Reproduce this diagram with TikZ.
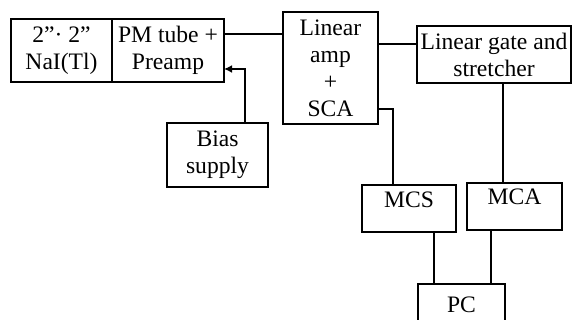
\documentclass[tikz,border=0pt]{standalone}
\usepackage{fontspec}
\setmainfont{Liberation Serif}
\usetikzlibrary{arrows.meta,positioning}

\begin{document}
\begin{tikzpicture}[x=0.5pt,y=-0.5pt,
box/.style={draw,line width=0.8pt,outer sep=0pt,align=center,inner sep=1pt,
font=\fontsize{11.8}{13.5}\selectfont},
toptext/.style={draw,line width=0.8pt,outer sep=0pt,inner sep=0pt,
text height=11pt,text depth=12.5pt,font=\fontsize{11.8}{13.5}\selectfont},
wire/.style={line width=0.8pt},
arr/.style={-{Latex[length=4pt,width=4pt]},line width=0.8pt}
]
\useasboundingbox (0,0) rectangle (572,320);
\clip (0,0) rectangle (572,320);
\node[box,minimum width=50.5pt,minimum height=31.5pt] (nai) at (61.5,50.5) {2”· 2”\\NaI(Tl)};
\node[box,minimum width=56pt,minimum height=31.5pt,right=0pt of nai] (pm) {PM tube +\\Preamp};
\node[box,minimum width=50.5pt,minimum height=32pt] (bias) at (217.5,155) {Bias\\supply};
\node[box,minimum width=47.5pt,minimum height=56pt] (amp) at (330.5,68) {Linear\\amp\\+\\SCA};
\node[box,minimum width=77pt,minimum height=28.5pt] (gate) at (494,54.5) {Linear gate and\\stretcher};
\node[toptext,minimum width=47pt] (mcs) at (409,208.5) {MCS};
\node[toptext,minimum width=47.5pt] (mca) at (514.5,206.5) {MCA};
\node[box,minimum width=43.5pt,minimum height=21pt] (pc) at (461.5,305) {PC};
\coordinate (pmout) at ([yshift=8.25pt]pm.east);
\draw[wire] (pmout) -- (pmout -| amp.west);
\coordinate (ampout) at ([yshift=12pt]amp.east);
\draw[wire] (ampout) -- (ampout -| gate.west);
\coordinate (scaout) at ([yshift=-20.5pt]amp.east);
\draw[wire] (scaout) -| ([xshift=-8pt]mcs.north);
\coordinate (gateout) at ([xshift=4.5pt]gate.south);
\draw[wire] (gateout) -- (gateout |- mca.north);
\coordinate (biasout) at ([xshift=13.75pt]bias.north);
\draw[arr] (biasout) |- ([yshift=-9.25pt]pm.east);
\coordinate (mcsout) at ([xshift=12.5pt]mcs.south);
\draw[wire] (mcsout) -- (mcsout |- pc.north);
\coordinate (mcaout) at ([xshift=-11.75pt]mca.south);
\draw[wire] (mcaout) -- (mcaout |- pc.north);
\end{tikzpicture}
\end{document}
